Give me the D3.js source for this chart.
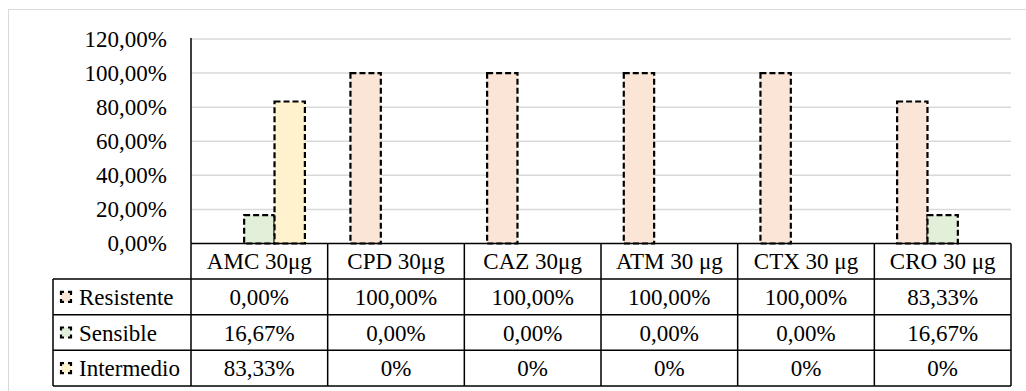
<!DOCTYPE html>
<html>
<head>
<meta charset="utf-8">
<script src="https://cdn.jsdelivr.net/npm/d3@7"></script>
<style>
  html, body { margin: 0; padding: 0; background: #fff; }
  svg { display: block; }
  svg text { font-family: "Liberation Serif", "Times New Roman", Times, "DejaVu Serif", serif; fill: #000; }
</style>
</head>
<body>
<svg id="chart" width="1026" height="391"></svg>
<script>
// Antibiotic susceptibility results per disc
const categories = ["AMC 30μg", "CPD 30μg", "CAZ 30μg", "ATM 30 μg", "CTX 30 μg", "CRO 30 μg"];
const seriesNames = ["Resistente", "Sensible", "Intermedio"];
const resistente = [0, 100, 100, 100, 100, 83.33];
const sensible = [16.67, 0, 0, 0, 0, 16.67];
const intermedio = [83.33, 0, 0, 0, 0, 0];
const seriesColors = ["#fbe5d6", "#e2f0d9", "#fff2cc"];
const yTicks = [0, 20, 40, 60, 80, 100, 120];

// Text shown in the data table under the axis
const resistenteText = ["0,00%", "100,00%", "100,00%", "100,00%", "100,00%", "83,33%"];
const sensibleText = ["16,67%", "0,00%", "0,00%", "0,00%", "0,00%", "16,67%"];
const intermedioText = ["83,33%", "0%", "0%", "0%", "0%", "0%"];

const seriesValues = [resistente, sensible, intermedio];
const seriesText = [resistenteText, sensibleText, intermedioText];

const FONT = '"Liberation Serif", "Times New Roman", Times, "DejaVu Serif", serif';
const svg = d3.select("#chart").attr("font-family", FONT);
const fontSize = 23;

// chart frame
svg.append("rect")
  .attr("x", 8.5).attr("y", 9.5)
  .attr("width", 1040).attr("height", 400)
  .attr("fill", "#fff").attr("stroke", "#d9d9d9").attr("stroke-width", 1);

const plot = { left: 191, right: 1011, top: 39, bottom: 243.5 };
const tableLeft = 53;
const rowH = 35.6;

const x = d3.scaleBand().domain(categories).range([plot.left, plot.right]).padding(0);
const xs = d3.scaleBand().domain(seriesNames).range([0, x.bandwidth()])
  .paddingInner(0).paddingOuter(0.75);
const y = d3.scaleLinear().domain([0, 120]).range([plot.bottom, plot.top]);

// gridlines
svg.append("g")
  .selectAll("line")
  .data(yTicks.filter(t => t > 0))
  .join("line")
  .attr("x1", plot.left).attr("x2", plot.right)
  .attr("y1", d => y(d)).attr("y2", d => y(d))
  .attr("stroke", "#d9d9d9").attr("stroke-width", 1.5);

// y axis labels
const yAxis = d3.axisLeft(y).tickValues(yTicks)
  .tickFormat(d => d3.format(".2f")(d).replace(".", ",") + "%")
  .tickSize(0).tickPadding(24);
const yg = svg.append("g").attr("transform", `translate(${plot.left},0)`).call(yAxis)
  .attr("font-family", FONT).attr("font-size", fontSize);
yg.select(".domain").remove();
yg.selectAll("text")
  .attr("font-size", fontSize)
  .attr("fill", "#000");

// y axis line
svg.append("line")
  .attr("x1", plot.left).attr("x2", plot.left)
  .attr("y1", plot.top - 1).attr("y2", plot.bottom)
  .attr("stroke", "#000").attr("stroke-width", 1.5);

// bars
const barData = [];
categories.forEach((c, i) => {
  seriesNames.forEach((s, j) => {
    const v = seriesValues[j][i];
    if (v > 0) barData.push({ c, s, v, color: seriesColors[j] });
  });
});

svg.append("g")
  .selectAll("rect")
  .data(barData)
  .join("rect")
  .attr("x", d => x(d.c) + xs(d.s))
  .attr("y", d => y(d.v))
  .attr("width", xs.bandwidth())
  .attr("height", d => y(0) - y(d.v))
  .attr("fill", d => d.color)
  .attr("stroke", "#000")
  .attr("stroke-width", 2.2)
  .attr("stroke-dasharray", "6,3");

// data table
const table = svg.append("g");
const headerTop = plot.bottom;
const rowTop = i => headerTop + rowH * (i + 1);
const tableBottom = headerTop + rowH * 4;

// header cells (category names)
table.selectAll("text.head")
  .data(categories)
  .join("text")
  .attr("class", "head")
  .attr("x", d => x(d) + x.bandwidth() / 2)
  .attr("y", headerTop + rowH / 2)
  .attr("dy", "0.35em")
  .attr("text-anchor", "middle")
  .attr("font-size", fontSize)
  .text(d => d);

// value cells
seriesNames.forEach((s, j) => {
  table.selectAll(`text.v${j}`)
    .data(categories)
    .join("text")
    .attr("class", `v${j}`)
    .attr("x", d => x(d) + x.bandwidth() / 2)
    .attr("y", rowTop(j) + rowH / 2)
    .attr("dy", "0.35em")
    .attr("text-anchor", "middle")
    .attr("font-size", fontSize)
    .text((d, i) => seriesText[j][i]);

  // legend key: dashed square with solid corners
  const k = 10;
  table.append("rect")
    .attr("x", 61).attr("y", rowTop(j) + rowH / 2 - k / 2)
    .attr("width", k).attr("height", k)
    .attr("fill", seriesColors[j])
    .attr("stroke", "#000").attr("stroke-width", 2.2)
    .attr("stroke-dasharray", "6,4")
    .attr("stroke-dashoffset", 3);

  table.append("text")
    .attr("x", 79)
    .attr("y", rowTop(j) + rowH / 2)
    .attr("dy", "0.35em")
    .attr("font-size", fontSize)
    .text(s);
});

// table grid lines
const lineAttrs = sel => sel.attr("stroke", "#000").attr("stroke-width", 1.5).attr("fill", "none");
// horizontal
table.append("line").call(lineAttrs)
  .attr("x1", plot.left).attr("x2", plot.right).attr("y1", headerTop).attr("y2", headerTop);
[0, 1, 2, 3].forEach(i => {
  table.append("line").call(lineAttrs)
    .attr("x1", tableLeft).attr("x2", plot.right)
    .attr("y1", rowTop(i)).attr("y2", rowTop(i));
});
// vertical
table.append("line").call(lineAttrs)
  .attr("x1", tableLeft).attr("x2", tableLeft).attr("y1", rowTop(0)).attr("y2", tableBottom);
categories.forEach(c => {
  table.append("line").call(lineAttrs)
    .attr("x1", x(c)).attr("x2", x(c)).attr("y1", headerTop).attr("y2", tableBottom);
});
table.append("line").call(lineAttrs)
  .attr("x1", plot.right).attr("x2", plot.right).attr("y1", headerTop).attr("y2", tableBottom);
</script>
</body>
</html>
